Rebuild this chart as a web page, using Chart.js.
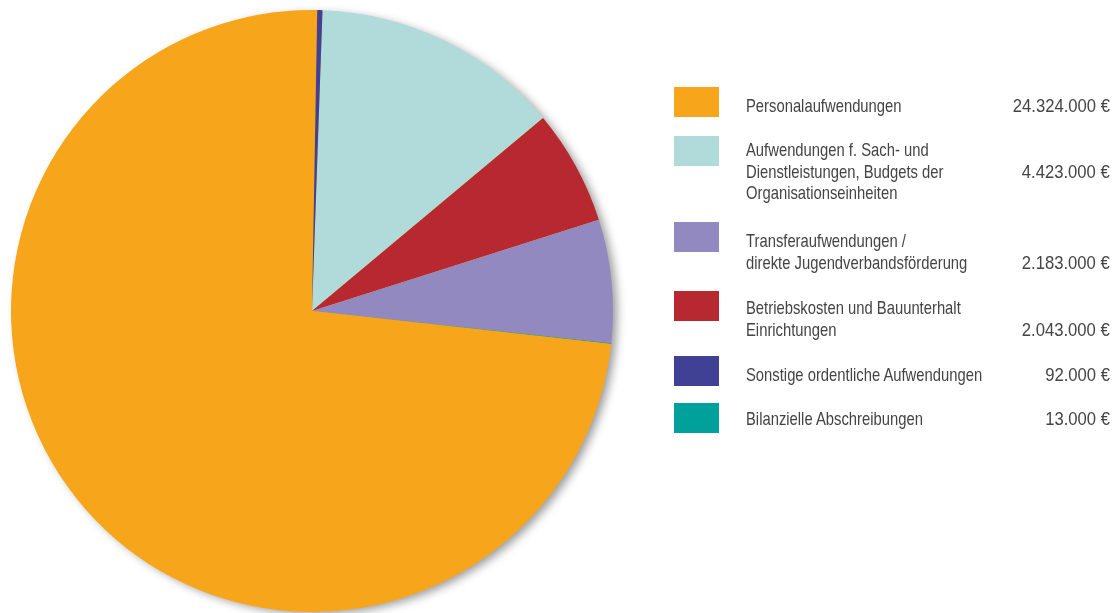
<!DOCTYPE html>
<html>
<head>
<meta charset="utf-8">
<script src="https://cdn.jsdelivr.net/npm/chart.js@4.4.1/dist/chart.umd.min.js"></script>
<style>
  html, body { margin: 0; padding: 0; background: #fff; width: 1115px; height: 613px; overflow: hidden; }
  #pieBox { position: absolute; left: 0; top: 0; width: 645px; height: 613px; }
  #legend {
    position: absolute; left: 0; top: 0; width: 1115px; height: 613px;
    font-family: "Liberation Sans", Arial, sans-serif;
    font-size: 18.5px; line-height: 21.7px; color: #444;
  }
  .swatch { position: absolute; left: 674px; width: 45px; height: 30px; }
  .label { position: absolute; left: 746px; white-space: nowrap; transform: scaleX(0.8); transform-origin: 0 0; }
  .value { position: absolute; right: 5px; white-space: nowrap; transform: scaleX(0.9); transform-origin: 100% 0; }
</style>
</head>
<body>
<div id="pieBox"><canvas id="pieChart"></canvas></div>
<div id="legend"></div>
<script>
// legend order
const categories = [
    ['Personalaufwendungen'],
    ['Aufwendungen f. Sach- und', 'Dienstleistungen, Budgets der', 'Organisationseinheiten'],
    ['Transferaufwendungen /', 'direkte Jugendverbandsförderung'],
    ['Betriebskosten und Bauunterhalt', 'Einrichtungen'],
    ['Sonstige ordentliche Aufwendungen'],
    ['Bilanzielle Abschreibungen']
];
const amounts = [24324000, 4423000, 2183000, 2043000, 92000, 13000];
const colors = ['#F7A61B', '#B0DBDA', '#9189BF', '#B72830', '#404094', '#00A19A'];
// slices clockwise from the top
const sliceOrder = [1, 3, 2, 5, 0, 4];

// legend placement (px), the original spacing is not regular
const textTops = [95, 139, 230, 297, 364, 408];
const swatchTops = [87, 136, 222, 291, 356, 403];
const lineH = 21.7;

function formatEuro(v) {
    return String(v).replace(/\B(?=(\d{3})+(?!\d))/g, '.') + ' €';
}

const legendEl = document.getElementById('legend');
categories.forEach((lines, i) => {
    const sw = document.createElement('div');
    sw.className = 'swatch';
    sw.style.top = swatchTops[i] + 'px';
    sw.style.background = colors[i];
    legendEl.appendChild(sw);

    const lbl = document.createElement('div');
    lbl.className = 'label';
    lbl.style.top = textTops[i] + 'px';
    lbl.innerHTML = lines.join('<br>');
    legendEl.appendChild(lbl);

    const val = document.createElement('div');
    val.className = 'value';
    val.style.top = (textTops[i] + (lines.length > 1 ? lineH : 0)) + 'px';
    val.textContent = formatEuro(amounts[i]);
    legendEl.appendChild(val);
});

// soft shadow under the whole pie
const pieShadow = {
    id: 'pieShadow',
    beforeDatasetsDraw(chart) {
        const arc = chart.getDatasetMeta(0).data[0];
        if (!arc) return;
        const ctx = chart.ctx;
        ctx.save();
        ctx.shadowColor = 'rgba(0,0,0,0.4)';
        ctx.shadowBlur = 10;
        ctx.shadowOffsetX = 5;
        ctx.shadowOffsetY = 3;
        ctx.fillStyle = colors[0];
        ctx.beginPath();
        ctx.arc(arc.x, arc.y, arc.outerRadius - 1, 0, Math.PI * 2);
        ctx.fill();
        ctx.restore();
    }
};

new Chart(document.getElementById('pieChart'), {
    type: 'pie',
    data: {
        labels: sliceOrder.map(i => categories[i].join(' ')),
        datasets: [{
            data: sliceOrder.map(i => amounts[i]),
            backgroundColor: sliceOrder.map(i => colors[i]),
            borderWidth: 0
        }]
    },
    options: {
        responsive: true,
        maintainAspectRatio: false,
        animation: false,
        rotation: 2,
        layout: { padding: { left: 11, top: 10, right: 32, bottom: 1 } },
        plugins: {
            legend: { display: false },
            tooltip: { enabled: false }
        }
    },
    plugins: [pieShadow]
});
</script>
</body>
</html>
